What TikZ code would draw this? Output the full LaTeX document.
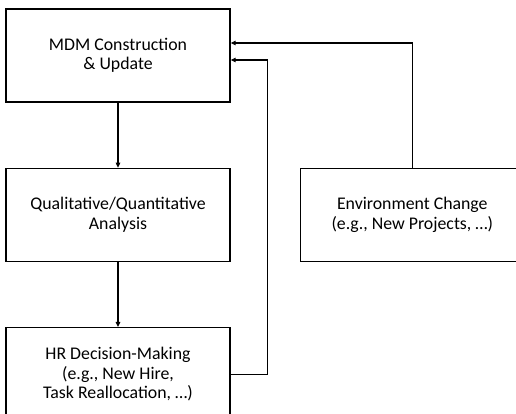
\documentclass[tikz,border=0pt]{standalone}
\usepackage{fontspec}
\setmainfont{Carlito}
\usepackage{tikz}
\usetikzlibrary{positioning,arrows.meta}

\begin{document}
\begin{tikzpicture}[
    node distance=65pt,
    stage/.style={rectangle, draw, line width=1.3pt, minimum width=224pt, minimum height=93pt, align=center, font=\fontsize{17.8}{19.5}\selectfont},
    arrow/.style={-{Triangle[length=5pt,width=4.5pt]}, line width=1.1pt}
]
\useasboundingbox (0,0) rectangle (516pt,-414pt);

% Left column - main loop
\node[stage] (mdm) at (118pt,-55.5pt) {MDM Construction\\
\& Update};

\node[stage, below=of mdm] (analysis) {Qualitative/Quantitative\\
Analysis};

\node[stage, below=of analysis] (decision) {HR Decision-Making\\
(e.g., New Hire,\\
Task Reallocation, \dots)};

% Right side - external trigger
\node[stage, right=69pt of analysis] (env) {Environment Change\\
(e.g., New Projects, \dots)};

% Flow and feedback
\draw[arrow] (mdm) -- (analysis);
\draw[arrow] (analysis) -- (decision);
\draw[arrow] (env.north) |- ([yshift=12.5pt]mdm.east);
\draw[arrow] (decision.east) -| ++(37pt,0) |- ([yshift=-4.5pt]mdm.east);

\end{tikzpicture}
\end{document}
